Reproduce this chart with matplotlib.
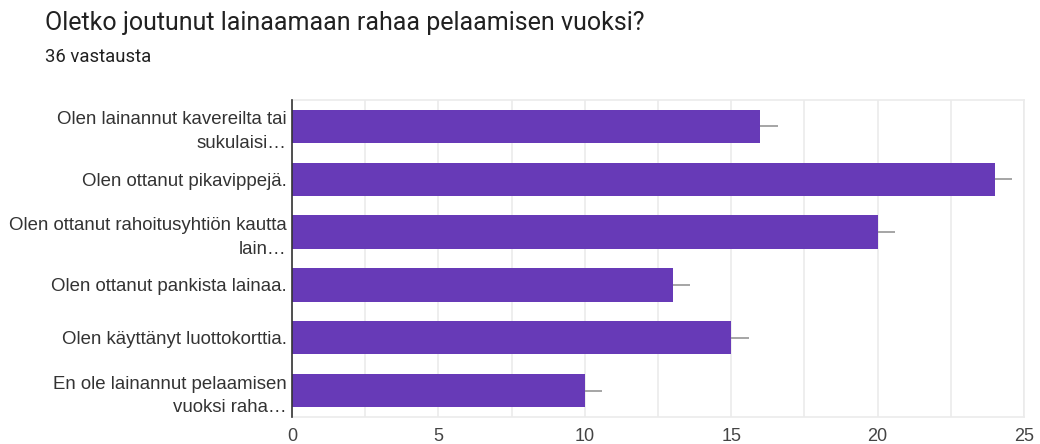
import matplotlib.pyplot as plt
import numpy as np

# survey answers, top to bottom
labels = [
    "Olen lainannut kavereilta tai\nsukulaisi…",
    "Olen ottanut pikavippejä.",
    "Olen ottanut rahoitusyhtiön kautta\nlain…",
    "Olen ottanut pankista lainaa.",
    "Olen käyttänyt luottokorttia.",
    "En ole lainannut pelaamisen\nvuoksi raha…",
]
counts = [16, 24, 20, 13, 15, 10]
xticks = [0, 5, 10, 15, 20, 25]

bar_color = "#673ab7"
grid_color = "#ebebeb"

fig = plt.figure(figsize=(10.4, 4.44), dpi=100)
ax = fig.add_axes([0.2808, 0.0608, 0.7038, 0.714])

y = np.arange(len(counts))
ax.barh(y, counts, height=0.63, color=bar_color, zorder=3)
ax.errorbar(counts, y, xerr=[[0] * len(counts), [0.6] * len(counts)],
            fmt="none", ecolor="#9e9e9e", elinewidth=1.3, capsize=0, zorder=2)

ax.set_xlim(0, 25)
ax.set_ylim(len(counts) - 0.5, -0.5)
ax.set_xticks(xticks)
ax.set_xticks(np.arange(0, 25.1, 2.5), minor=True)
ax.grid(True, axis="x", which="both", color=grid_color, linewidth=1.2, zorder=0)
ax.tick_params(axis="x", which="both", length=0, pad=8, labelsize=13, labelcolor="#444444")
ax.tick_params(axis="y", length=0, pad=4)
ax.set_yticks(y)
ax.set_yticklabels(labels, fontsize=13.4, color="#333333", family="Liberation Sans",
                   linespacing=1.5)
for t in ax.get_xticklabels():
    t.set_family("Liberation Sans")

for side in ["top", "right", "bottom"]:
    ax.spines[side].set_color(grid_color)
    ax.spines[side].set_linewidth(1.2)
ax.spines["left"].set_color("#333333")
ax.spines["left"].set_linewidth(1.2)
ax.spines["left"].set_zorder(4)

fig.text(0.043, 0.948, "Oletko joutunut lainaamaan rahaa pelaamisen vuoksi?",
         fontsize=18, family="Roboto", color="#212121", va="center")
fig.text(0.043, 0.872, "36 vastausta", fontsize=13.3, family="Roboto",
         color="#212121", va="center")

fig.savefig("out.png", dpi=100, facecolor="white")
